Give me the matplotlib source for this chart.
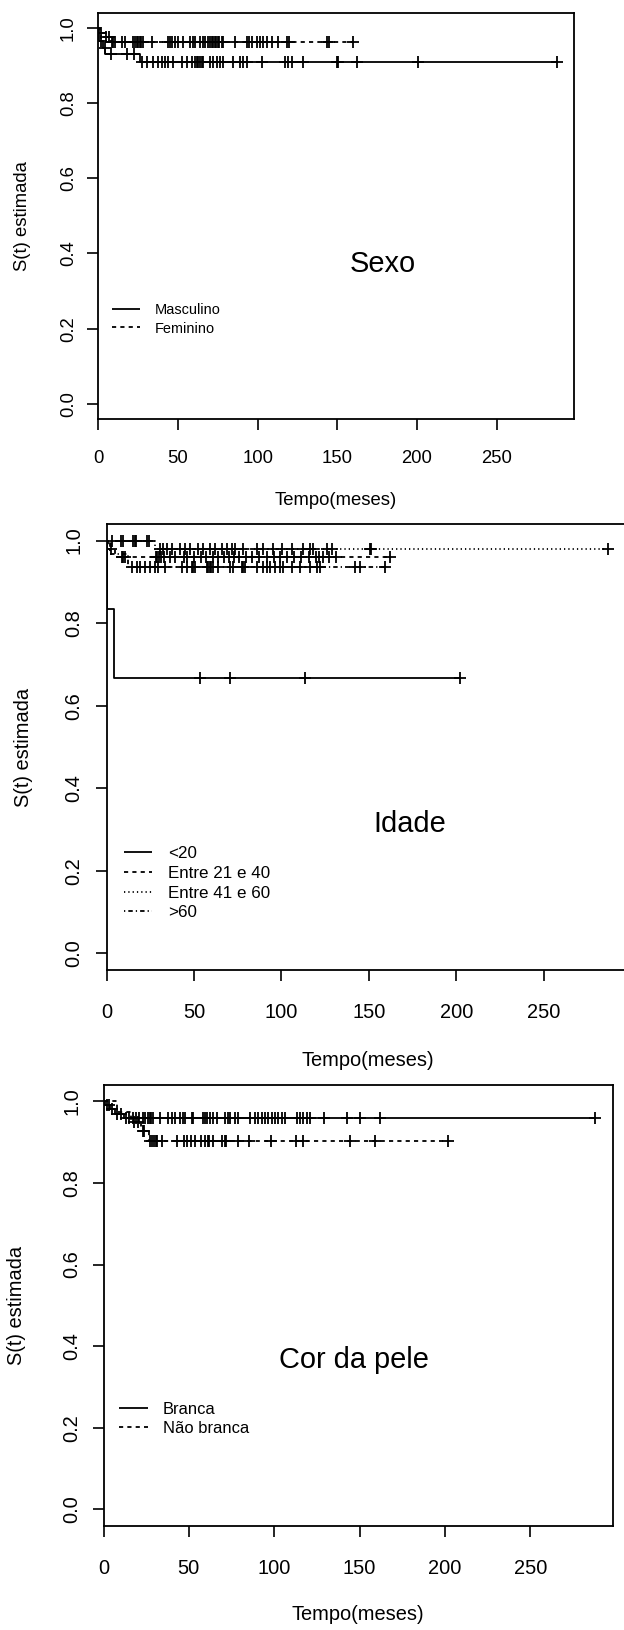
import numpy as np
import matplotlib
matplotlib.use("Agg")
import matplotlib.pyplot as plt
from matplotlib import font_manager as fm
from matplotlib.lines import Line2D

# ---------------- data ----------------
x_ticks = [0, 50, 100, 150, 200, 250]
y_ticks = [0.0, 0.2, 0.4, 0.6, 0.8, 1.0]
y_tick_labels = ["0.0", "0.2", "0.4", "0.6", "0.8", "1.0"]

# Panel 1 : Sexo
sexo_title = "Sexo"
sexo_labels = ["Masculino", "Feminino"]
masc_times = [0, 0.5, 3, 4.5, 26]
masc_surv = [1.0, 0.965, 0.947, 0.931, 0.910]
masc_cens = [1.5, 4, 7.8, 18.2, 22.4, 27.2, 30.3, 34.5, 37.7, 39.8, 41.8, 43.9, 47.1,
             52.3, 55.4, 58.6, 60.7, 61.7, 62.8, 63.8, 64.8, 65.9, 70, 72.2, 74.3, 76.3,
             78.4, 84.7, 88.9, 91, 93.1, 102.5, 117.1, 119.2, 121.3, 128.6, 149.5, 150.6,
             162.1, 200.8, 287.6]
fem_times = [0, 1, 4, 8]
fem_surv = [1.0, 0.987, 0.975, 0.963]
fem_cens = [2, 5, 7, 8.5, 9.5, 10.5, 14.7, 16.7, 22, 23, 24, 25, 26.2, 27, 28.2, 33.5,
            43.9, 45, 46, 48.1, 50.2, 53.3, 57.5, 59.6, 60.7, 63.8, 65.9, 66.9, 69, 70,
            71.1, 72, 73.2, 74, 75.3, 76, 77.4, 78.4, 85.8, 93.1, 94.8, 96.2, 99.4, 101.4,
            103.5, 105.6, 108.8, 113, 118.2, 119.9, 143.3, 145, 160]

# Panel 2 : Idade
idade_title = "Idade"
idade_labels = ["<20", "Entre 21 e 40", "Entre 41 e 60", ">60"]
lt20_times = [0, 0.5, 4.4]
lt20_surv = [1.0, 0.833, 0.667]
lt20_cens = [53.4, 70.6, 113.6, 202]
e2140_times = [0, 1, 5]
e2140_surv = [1.0, 0.98, 0.96]
e2140_cens = [2.5, 8.6, 9.5, 10.5, 28, 29, 30, 31, 33, 36, 39, 44, 46, 50, 54, 57, 61,
              64, 67, 70, 73, 76, 80, 83, 87, 92, 96, 99, 103, 107, 111, 116, 120, 121.5,
              124, 127, 131, 162]
e4160_times = [0, 27.7]
e4160_surv = [1.0, 0.979]
e4160_cens = [2.9, 8, 9.6, 15.3, 16, 16.8, 22.9, 24.4, 30.5, 32, 34.4, 37.2, 42, 44.9,
              47.7, 52.5, 55.3, 59.1, 62, 65.8, 68.7, 71.5, 73.5, 78.2, 85.8, 89.7, 95.4,
              100.2, 105.9, 112.5, 116.4, 118.3, 125.9, 129, 150.7, 151.5, 287]
gt60_times = [0, 2, 12]
gt60_surv = [1.0, 0.968, 0.937]
gt60_cens = [14.3, 17.2, 19.1, 21.9, 24.8, 27.7, 29.6, 33.4, 42.9, 45.8, 48.7, 49.5,
             50.6, 57.2, 58, 59.1, 60, 61.1, 63.9, 70.6, 72.5, 77.3, 78, 79.2, 85.8, 89.7,
             91.6, 93.5, 96.3, 99.2, 101.1, 105.9, 110.6, 116.4, 120.2, 122.1, 142, 145,
             159.4]

# Panel 3 : Cor da pele
cor_title = "Cor da pele"
cor_labels = ["Branca", "Não branca"]
branca_times = [0, 1, 4, 7, 12]
branca_surv = [1.0, 0.99, 0.98, 0.97, 0.958]
branca_cens = [2, 3, 5, 8, 10, 13, 15, 17, 19, 21, 23, 24.5, 26.3, 27, 28, 29.2, 33.1,
               38, 39.9, 41.9, 44.8, 46.8, 47.8, 51.7, 52.6, 58.5, 59.5, 60.5, 62.4, 64.4,
               66.3, 71.2, 72.8, 74.1, 77.1, 79, 85.9, 88.8, 90.8, 92.7, 94.7, 96.6, 98.6,
               100.5, 102.5, 104.4, 106.4, 113.2, 115.2, 117.1, 119.1, 121, 128.9, 142.6,
               150.4, 162, 288]
nbranca_times = [0, 8, 16, 22, 26.5]
nbranca_surv = [1.0, 0.975, 0.95, 0.927, 0.902]
nbranca_cens = [18, 20, 23, 24, 27.5, 28.5, 29.5, 30.5, 31.5, 34, 43, 47, 49, 51, 53.6,
                57, 59.5, 61, 62, 64, 69.5, 71, 72, 79, 85.5, 98, 113, 117, 144.5, 159, 202]

x_label = "Tempo(meses)"
y_label = "S(t) estimada"

# ---------------- style ----------------
plt.rcParams["lines.scale_dashes"] = False
W, H = 624, 1630
DPI = 100
PT = 72.0 / DPI  # px -> pt

def has_font(name):
    try:
        fm.findfont(fm.FontProperties(family=name), fallback_to_default=False)
        return True
    except Exception:
        return False

REG = "Liberation Sans" if has_font("Liberation Sans") else "DejaVu Sans"
NARROW = "Liberation Sans Narrow" if has_font("Liberation Sans Narrow") else None

SOLID = "-"
DASHED = (0, (3.0, 3.0))
DOTTED = (0, (0.9, 2.2))
DOTDASH = (0, (0.9, 2.2, 3.2, 2.2))
LW = 1.3

fig = plt.figure(figsize=(W / DPI, H / DPI), dpi=DPI)
fig.patch.set_facecolor("white")


def fx(px):
    return px / W


def fy(py):
    return 1 - py / H


def km(ax, times, surv, cens, ls):
    times = np.asarray(times, float)
    surv = np.asarray(surv, float)
    cens = np.asarray(cens, float)
    end = max(cens.max(), times.max())
    xs = np.append(times, end)
    ys = np.append(surv, surv[-1])
    ax.step(xs, ys, where="post", color="black", lw=LW, linestyle=ls,
            solid_capstyle="butt", dash_capstyle="butt", zorder=3)
    idx = np.searchsorted(times, cens, side="right") - 1
    ax.plot(cens, surv[idx], linestyle="none", marker="+", ms=9, mew=1.3,
            color="black", zorder=4)


def panel(box, tick_font, tick_px, lab_px, ytl_cx, xtl_cy, xl_cy, yl_cx):
    left, top, right, bottom = box
    ax = fig.add_axes([fx(left), fy(bottom), (right - left) / W, (bottom - top) / H])
    ax.set_xlim(0, 298.4)
    ax.set_ylim(-0.04, 1.04)
    ax.set_xticks(x_ticks)
    ax.set_xticklabels([str(t) for t in x_ticks])
    ax.set_yticks(y_ticks)
    ax.set_yticklabels(y_tick_labels)
    for s in ax.spines.values():
        s.set_linewidth(1.3)
        s.set_color("black")
    tl = 11.5  # tick length in px
    fs = tick_px * PT
    top_of_label = xtl_cy - 0.37 * tick_px
    xpad = (top_of_label - (bottom + tl)) * PT
    right_of_label = ytl_cx + 0.57 * tick_px
    ypad = ((left - tl) - right_of_label) * PT
    ax.tick_params(axis="x", direction="out", length=tl * PT, width=1.2,
                   labelsize=fs, pad=xpad)
    ax.tick_params(axis="y", direction="out", length=tl * PT, width=1.2,
                   labelsize=fs, pad=ypad, labelrotation=90)
    for lab in ax.get_xticklabels() + ax.get_yticklabels():
        lab.set_fontfamily(tick_font)
    for lab in ax.get_yticklabels():
        lab.set_verticalalignment("center")
    ax.set_xlabel(x_label, fontsize=lab_px * PT, fontfamily=tick_font,
                  ha="center", va="center")
    ax.set_ylabel(y_label, fontsize=lab_px * PT, fontfamily=tick_font,
                  ha="center", va="center")
    ax.xaxis.set_label_coords(0.5, (bottom - xl_cy) / (bottom - top))
    ax.yaxis.set_label_coords((yl_cx - left) / (right - left), 0.5)
    return ax


def legend(entries, x0, x1, tx, ys, px):
    for (lab, ls), y in zip(entries, ys):
        fig.add_artist(Line2D([fx(x0), fx(x1)], [fy(y), fy(y)], transform=fig.transFigure,
                              color="black", lw=LW, linestyle=ls,
                              solid_capstyle="butt", dash_capstyle="butt"))
        fig.text(fx(tx), fy(y), lab, fontsize=px * PT, fontfamily=REG,
                 ha="left", va="center_baseline")


if NARROW:
    f23, t23, l23 = NARROW, 23, 24
else:
    f23, t23, l23 = REG, 20, 20

# ---------------- Panel 1 ----------------
ax1 = panel((98.3, 12.7, 573.8, 419.0), REG, 18.5, 18.5,
            ytl_cx=66.5, xtl_cy=456.7, xl_cy=500.7, yl_cx=23)
km(ax1, masc_times, masc_surv, masc_cens, SOLID)
km(ax1, fem_times, fem_surv, fem_cens, DASHED)
ax1.text(178.6, 0.351, sexo_title, fontsize=29 * PT, fontfamily=REG,
         ha="center", va="baseline")
legend(list(zip(sexo_labels, [SOLID, DASHED])), 112, 140, 154.4, [309, 327.3], 14.5)

# ---------------- Panel 2 ----------------
ax2 = panel((106.6, 524.0, 628.2, 970.0), f23, t23, l23,
            ytl_cx=71.6, xtl_cy=1010, xl_cy=1060.7, yl_cx=23)
km(ax2, lt20_times, lt20_surv, lt20_cens, SOLID)
km(ax2, e2140_times, e2140_surv, e2140_cens, DASHED)
km(ax2, e4160_times, e4160_surv, e4160_cens, DOTTED)
km(ax2, gt60_times, gt60_surv, gt60_cens, DOTDASH)
ax2.text(173.6, 0.294, idade_title, fontsize=29 * PT, fontfamily=REG,
         ha="center", va="baseline")
legend(list(zip(idade_labels, [SOLID, DASHED, DOTTED, DOTDASH])), 124, 152, 168,
       [851.7, 871.7, 891.7, 910.7], 17)

# ---------------- Panel 3 ----------------
ax3 = panel((103.5, 1085.0, 612.8, 1525.7), f23, t23, l23,
            ytl_cx=70.2, xtl_cy=1566.7, xl_cy=1615, yl_cx=17)
km(ax3, branca_times, branca_surv, branca_cens, SOLID)
km(ax3, nbranca_times, nbranca_surv, nbranca_cens, DASHED)
ax3.text(146.9, 0.346, cor_title, fontsize=29 * PT, fontfamily=REG,
         ha="center", va="baseline")
legend(list(zip(cor_labels, [SOLID, DASHED])), 119.4, 148, 163, [1408.3, 1427.3], 16.5)

fig.savefig("out.png", dpi=DPI, facecolor="white")
